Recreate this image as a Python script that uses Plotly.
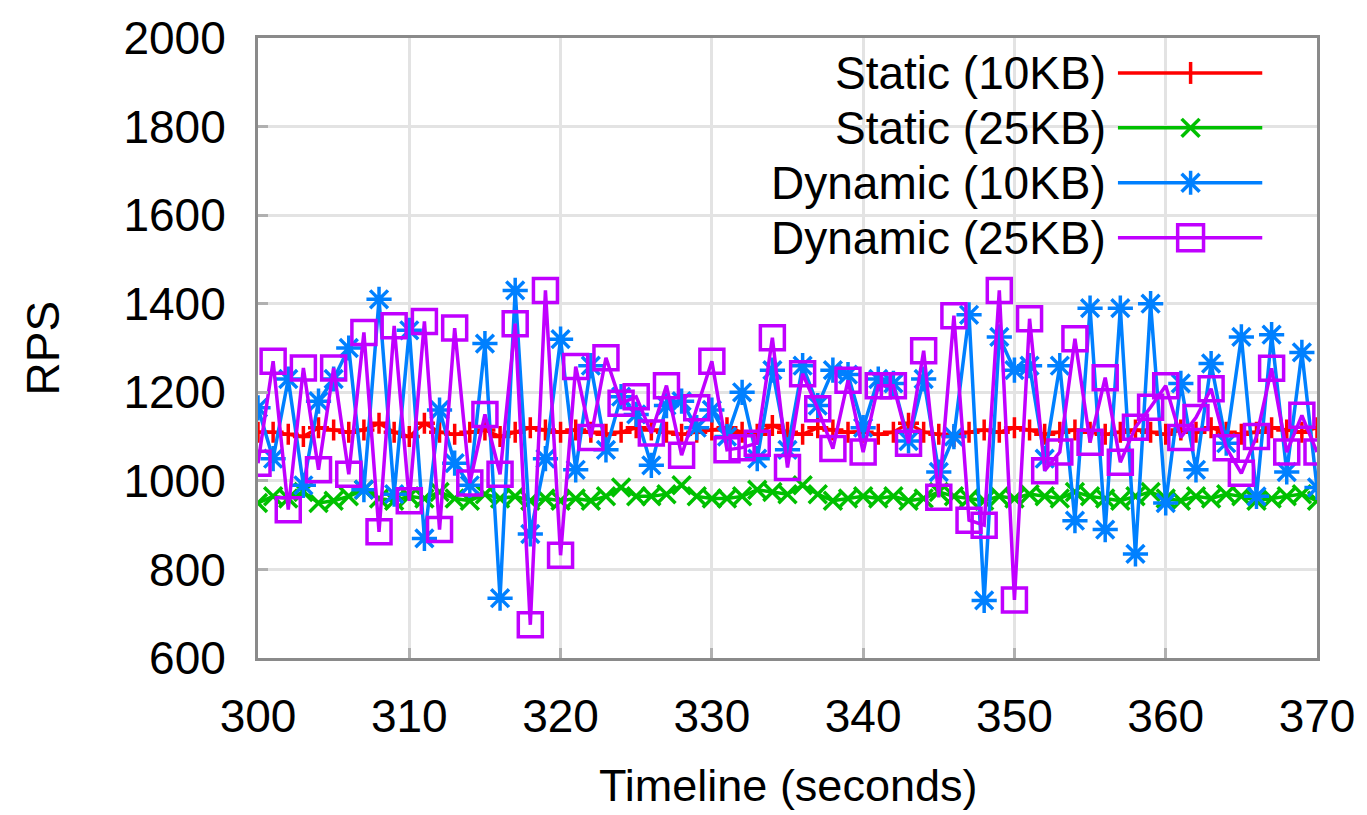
import plotly.graph_objects as go

# ---------------- data ----------------
seconds = list(range(300, 371))

static_10kb = [1110, 1110, 1105, 1100, 1120, 1115, 1110, 1115, 1130, 1110,
               1100, 1130, 1110, 1105, 1110, 1115, 1100, 1110, 1120, 1115,
               1110, 1115, 1110, 1105, 1110, 1120, 1115, 1110, 1105, 1110,
               1115, 1120, 1110, 1105, 1125, 1110, 1105, 1120, 1115, 1110,
               1110, 1105, 1110, 1130, 1110, 1105, 1100, 1110, 1115, 1110,
               1120, 1115, 1105, 1110, 1115, 1110, 1105, 1110, 1115, 1110,
               1105, 1115, 1110, 1120, 1110, 1105, 1110, 1120, 1115, 1110,
               1120]

static_25kb = [950, 965, 960, 975, 950, 955, 965, 980, 960, 955,
               965, 960, 975, 960, 955, 970, 960, 965, 955, 960,
               955, 960, 955, 965, 985, 965, 965, 970, 990, 965,
               960, 960, 965, 980, 975, 970, 990, 970, 955, 960,
               965, 960, 965, 955, 960, 975, 965, 960, 955, 965,
               960, 970, 965, 960, 975, 965, 960, 955, 965, 975,
               960, 955, 965, 960, 970, 965, 955, 960, 965, 970,
               955]

dynamic_10kb = [1165, 1050, 1230, 990, 1180, 1230, 1300, 980, 1410, 970,
                1340, 870, 1160, 1040, 990, 1310, 735, 1430, 880, 1050,
                1320, 1025, 1260, 1070, 1190, 1150, 1035, 1170, 1180, 1120,
                1160, 1100, 1200, 1050, 1250, 1070, 1260, 1170, 1250, 1240,
                1120, 1230, 1220, 1090, 1230, 1020, 1100, 1375, 730, 1325,
                1250, 1260, 1050, 1260, 910, 1390, 890, 1390, 835, 1400,
                950, 1220, 1025, 1265, 1085, 1325, 965, 1330, 1020, 1290,
                985]

dynamic_25kb = [1040, 1270, 935, 1255, 1025, 1255, 1015, 1335, 885, 1350,
                955, 1360, 890, 1345, 995, 1150, 1015, 1355, 675, 1430,
                832, 1258, 1098, 1278, 1175, 1190, 1108, 1215, 1058, 1165,
                1270, 1070, 1075, 1085, 1323, 1030, 1242, 1163, 1073, 1227,
                1065, 1215, 1215, 1085, 1294, 963, 1373, 911, 900, 1430,
                731, 1366, 1023, 1065, 1321, 1087, 1233, 1042, 1121, 1166,
                1215, 1098, 1143, 1208, 1075, 1017, 1100, 1254, 1065, 1148,
                1065]

series_names = ["Static (10KB)", "Static (25KB)", "Dynamic (10KB)", "Dynamic (25KB)"]
x_ticks = [300, 310, 320, 330, 340, 350, 360, 370]
y_ticks = [600, 800, 1000, 1200, 1400, 1600, 1800, 2000]

# ---------------- style ----------------
RED, GREEN, BLUE, PURPLE = "#ff0000", "#00c000", "#0080ff", "#c000ff"
FONT = "Liberation Sans, Arial, sans-serif"
FS = 46
W, H = 1367, 815
L, R, T, B = 258, 45, 37, 157
PW, PH = W - L - R, H - T - B


def px(xp):
    return (xp - L) / PW


def py(yp):
    return (H - B - yp) / PH


fig = go.Figure()
styles = [
    (static_10kb, RED, "cross-thin-open", 15),
    (static_25kb, GREEN, "x-thin-open", 18),
    (dynamic_10kb, BLUE, "asterisk-open", 21),
    (dynamic_25kb, PURPLE, "square-open", 24),
]
for name, (vals, col, sym, size) in zip(series_names, styles):
    fig.add_trace(go.Scatter(
        x=seconds, y=vals, name=name, mode="lines+markers",
        line=dict(color=col, width=3.5),
        marker=dict(symbol=sym, size=size, color=col,
                    line=dict(color=col, width=3.5)),
        showlegend=False,
    ))

shapes = []
annotations = []
# legend background box
shapes.append(dict(type="rect", xref="paper", yref="paper",
                   x0=px(762), x1=px(1294), y0=py(262), y1=py(45),
                   fillcolor="white", line=dict(width=0), layer="between"))

row_y = [72, 127, 182, 237]
lx0, lx1, mx = 1122, 1267, 1195
for i, (name, (vals, col, sym, size)) in enumerate(zip(series_names, styles)):
    yy = row_y[i]
    shapes.append(dict(type="line", xref="paper", yref="paper",
                       x0=px(lx0), x1=px(lx1), y0=py(yy), y1=py(yy),
                       line=dict(color=col, width=3.5), layer="above"))
    if sym == "cross-thin-open":
        s = 11
        shapes.append(dict(type="line", xref="paper", yref="paper",
                           x0=px(mx), x1=px(mx), y0=py(yy - s), y1=py(yy + s),
                           line=dict(color=col, width=3.5), layer="above"))
    elif sym == "x-thin-open":
        s = 9
        for d in (1, -1):
            shapes.append(dict(type="line", xref="paper", yref="paper",
                               x0=px(mx - s), x1=px(mx + s), y0=py(yy - d * s), y1=py(yy + d * s),
                               line=dict(color=col, width=3.5), layer="above"))
    elif sym == "asterisk-open":
        s = 12
        s2 = 9
        shapes.append(dict(type="line", xref="paper", yref="paper",
                           x0=px(mx), x1=px(mx), y0=py(yy - s), y1=py(yy + s),
                           line=dict(color=col, width=3.5), layer="above"))
        for d in (1, -1):
            shapes.append(dict(type="line", xref="paper", yref="paper",
                               x0=px(mx - s2), x1=px(mx + s2), y0=py(yy - d * s2), y1=py(yy + d * s2),
                               line=dict(color=col, width=3.5), layer="above"))
    else:
        s = 13
        shapes.append(dict(type="rect", xref="paper", yref="paper",
                           x0=px(mx - s), x1=px(mx + s), y0=py(yy - s), y1=py(yy + s),
                           line=dict(color=col, width=3.5), fillcolor="rgba(0,0,0,0)", layer="above"))
    annotations.append(dict(text=name, xref="paper", yref="paper",
                            x=px(1112), y=py(yy), xanchor="right", yanchor="middle",
                            showarrow=False, font=dict(family=FONT, size=FS, color="black")))

annotations.append(dict(text="RPS", xref="paper", yref="paper", x=px(42), y=py(348),
                        xanchor="center", yanchor="middle", textangle=-90, showarrow=False,
                        font=dict(family=FONT, size=FS, color="black")))
annotations.append(dict(text="Timeline (seconds)", xref="paper", yref="paper", x=px(790), y=py(786),
                        xanchor="center", yanchor="middle", showarrow=False,
                        font=dict(family=FONT, size=45, color="black")))

axis_common = dict(showgrid=True, gridcolor="#e3e3e3", gridwidth=3,
                   showline=True, linecolor="#8a8a8a", linewidth=3, mirror=True,
                   ticks="inside", ticklen=10, tickwidth=3, tickcolor="#b0b0b0",
                   zeroline=False,
                   tickfont=dict(family=FONT, size=FS, color="black"))

fig.update_layout(
    width=W, height=H,
    margin=dict(l=L, r=R, t=T, b=B),
    paper_bgcolor="white", plot_bgcolor="white",
    xaxis=dict(range=[300, 370], tickvals=x_ticks, ticklabelstandoff=16, **axis_common),
    yaxis=dict(range=[600, 2000], tickvals=y_ticks, ticklabelstandoff=20, **axis_common),
    shapes=shapes, annotations=annotations,
    showlegend=False,
)

fig.write_html("out.html", config={"displayModeBar": False},
               post_script="document.body.style.margin='0';document.body.style.overflow='hidden';")
